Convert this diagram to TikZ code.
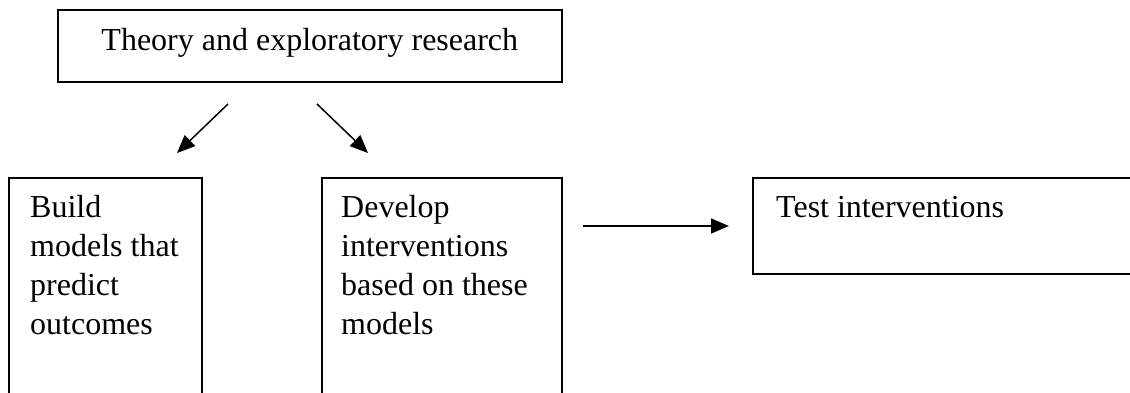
\documentclass[tikz,border=0pt]{standalone}
\usepackage{fontspec}
\setmainfont{Liberation Serif}
\usetikzlibrary{arrows.meta}
\tikzset{
  box/.style={draw=black, line width=1.6pt, inner sep=0pt, fill=none},
  txt/.style={inner sep=0pt, align=left, font=\fontsize{32}{38.7}\selectfont},
  conn/.style={draw=black, line width=1.5pt, -{Triangle[length=18pt,width=15pt]}},
}
\begin{document}
\begin{tikzpicture}[x=1pt,y=-1pt]
\useasboundingbox (0,0) rectangle (1130,392);
\clip (0,0) rectangle (1130,392);
% top box
\node[box, anchor=north west, minimum width=504pt, minimum height=72pt,
      text height=22pt, text depth=12pt, font=\fontsize{32}{38.7}\selectfont]
      (top) at (57,9) {Theory and exploratory research};
% bottom boxes
\node[box, anchor=north west, minimum width=193pt, minimum height=260pt] (b1) at (8,177) {};
\node[box, anchor=north west, minimum width=240pt, minimum height=260pt] (b2) at (321,177) {};
\node[box, anchor=north west, minimum width=420pt, minimum height=96pt] (b3) at (752,177) {};
% texts
\node[txt, anchor=base west] (t1) at (30,217) {Build};
\node[txt, anchor=base west] (t1b) at (30,256.7) {models that};
\node[txt, anchor=base west] (t1c) at (30,295.4) {predict};
\node[txt, anchor=base west] (t1d) at (30,334.1) {outcomes};
\node[txt, anchor=base west] (t2) at (341,217) {Develop};
\node[txt, anchor=base west] (t2b) at (341,256.7) {interventions};
\node[txt, anchor=base west] (t2c) at (341,295.4) {based on these};
\node[txt, anchor=base west] (t2d) at (341,334.1) {models};
\node[txt, anchor=base west] (t3) at (776,217) {Test interventions};
% connector ends
\coordinate (a1s) at (228,104);
\coordinate (a1e) at (177,153);
\coordinate (a2s) at (317,104);
\coordinate (a2e) at (368,153);
\coordinate (a3s) at (583,226);
\coordinate (a3e) at (729,226);
\draw[conn] (a1s) -- (a1e);
\draw[conn] (a2s) -- (a2e);
\draw[conn] (a3s) -- (a3e);
\end{tikzpicture}
\end{document}
